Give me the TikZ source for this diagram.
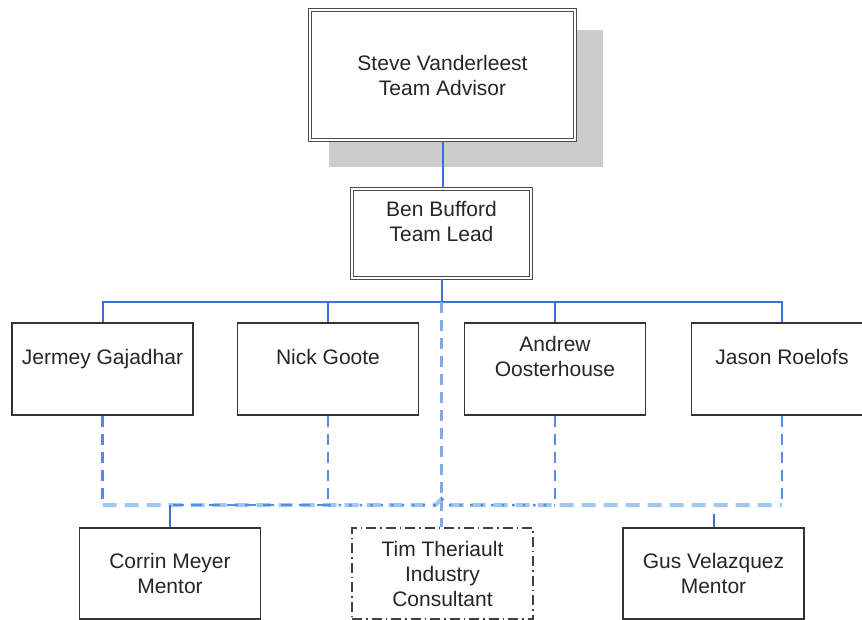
\documentclass[tikz,border=0pt]{standalone}
\usepackage{fontspec}
\setmainfont{Liberation Sans}
\usetikzlibrary{backgrounds,calc}

\definecolor{linkblue}{RGB}{61,111,214}
\definecolor{mentorblue}{RGB}{88,140,222}
\definecolor{barblue}{RGB}{160,198,242}
\definecolor{shadowgray}{RGB}{204,204,204}

\tikzset{every picture/.style={line width=0.75pt}}
\tikzset{
  person/.style={draw=black!80, line width=1.7pt, fill=white, text=black!85, align=center,
    font=\fontsize{21}{25}\selectfont, minimum width=181pt, minimum height=92pt, inner sep=0pt},
  lead/.style={person, draw=black!70, line width=1.4pt, double=white, double distance=1.8pt},
  consultant/.style={person, draw=black!75, dash pattern=on 10pt off 4pt on 1.5pt off 4pt},
  link/.style={draw=linkblue, line width=2pt},
  mentorlink/.style={draw=mentorblue, line width=2.5pt, dash pattern=on 11pt off 7pt},
  mentorbar/.style={draw=barblue, line width=4pt, dash pattern=on 14pt off 8pt},
}

\begin{document}
\begin{tikzpicture}[x=1pt,y=1pt,yscale=-1]
\path[use as bounding box, clip] (0,0) rectangle (862,619);

% advisor and lead
\node[lead, minimum width=265pt, minimum height=130pt] (steve) at (442.5,75) {Steve Vanderleest\\Team Advisor};
\node[lead, minimum width=179pt, minimum height=89pt] (ben) at (441.5,233.5) {Ben Bufford\\Team Lead\\\mbox{}};
\begin{scope}[on background layer]
\fill[shadowgray] ($(steve.north west)+(20,21)$) rectangle ($(steve.south east)+(27,26)$);
\end{scope}

% team members
\node[person] (jermey) at (102.5,369) {Jermey Gajadhar\\\mbox{}};
\node[person] (nick) at (328,369) {Nick Goote\\\mbox{}};
\node[person] (andrew) at (555,369) {Andrew\\Oosterhouse\\\mbox{}};
\node[person] (jason) at (782,369) {Jason Roelofs\\\mbox{}};

% mentors
\node[person, minimum height=91pt] (corrin) at (170,573.5) {Corrin Meyer\\Mentor};
\node[consultant, minimum height=91pt] (tim) at (442.5,573.5) {Tim Theriault\\Industry\\Consultant};
\node[person, minimum height=91pt] (gus) at (713.5,573.5) {Gus Velazquez\\Mentor};

% solid lines
\coordinate (bus) at (ben.south |- 0,302);
\draw[link] (steve.south) -- (steve.south |- ben.north);
\draw[link] (ben.south) -- (bus);
\foreach \who in {jermey,nick,andrew,jason}
  \draw[link] (bus) -| (\who.north);

% dashed mentor lines
\coordinate (bar) at (0,505);
\coordinate (hop) at (bus |- bar);
\draw[mentorlink, draw=mentorblue!75] (bus) -- (bus |- tim.north);
\foreach \who in {jermey,nick,andrew,jason}
  \draw[mentorlink] (\who.south) -- (\who.south |- bar);
\draw[mentorbar] (jermey.south |- bar) -- ($(hop)+(-6,0)$) -- ++(6,-6) -- ++(6,6) -- (jason.south |- bar);
\draw[mentorlink] (nick.south |- bar) -- (corrin.north |- bar);
\draw[mentorlink, dash pattern=on 2.5pt off 8pt] (nick.south |- bar) -- ($(hop)+(-6,0)$) -- ++(6,-6) -- ++(6,6) -- (andrew.south |- bar);
\draw[link] (corrin.north |- bar) -- (corrin.north);
\draw[link] ($(gus.north |- bar)+(0,9)$) -- (gus.north);

\end{tikzpicture}
\end{document}
